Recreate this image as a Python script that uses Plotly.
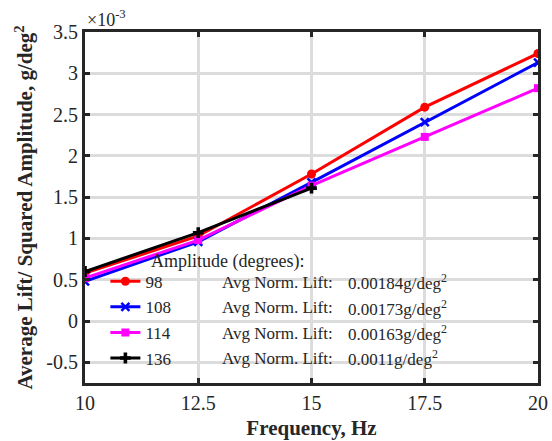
import plotly.graph_objects as go

# Data (values in units of 1e-3 g/deg^2)
freq = [10, 12.5, 15, 17.5, 20]
freq_136 = [10, 12.5, 15]
amp_98 = [0.58, 1.03, 1.78, 2.59, 3.24]
amp_108 = [0.48, 0.96, 1.68, 2.41, 3.13]
amp_114 = [0.52, 0.98, 1.64, 2.23, 2.82]
amp_136 = [0.60, 1.07, 1.61]

series_names = ["98", "108", "114", "136"]
avg_lift_labels = ["0.00184", "0.00173", "0.00163", "0.0011"]

x_tickvals = [10, 12.5, 15, 17.5, 20]
x_ticktext = ["10", "12.5", "15", "17.5", "20"]
y_tickvals = [-0.5, 0, 0.5, 1, 1.5, 2, 2.5, 3, 3.5]
y_ticktext = ["-0.5", "0", "0.5", "1", "1.5", "2", "2.5", "3", "3.5"]

FONT = "'Liberation Serif', 'Times New Roman', Times, serif"
AX = "#262626"
LEG_SIZE = 17

fig = go.Figure()
styles = [
    dict(color="#ff0000", symbol="circle", size=9, lw=0),
    dict(color="#0000ff", symbol="x-thin", size=8, lw=2.5),
    dict(color="#ff00ff", symbol="square", size=8, lw=0),
    dict(color="#000000", symbol="cross", size=9, lw=0),
]
xs = [freq, freq, freq, freq_136]
ys = [amp_98, amp_108, amp_114, amp_136]
for name, x, y, st in zip(series_names, xs, ys, styles):
    fig.add_trace(go.Scatter(
        x=x, y=y, name=name, mode="lines+markers", legendgroup=name,
        line=dict(color=st["color"], width=3),
        marker=dict(symbol=st["symbol"], size=st["size"], color=st["color"],
                    line=dict(color=st["color"], width=st["lw"])),
    ))

axis_common = dict(
    showgrid=True, gridcolor="#dcdcdc", gridwidth=2.5,
    ticks="inside", ticklen=5, tickwidth=3, tickcolor=AX,
    showline=True, linecolor=AX, linewidth=3, mirror="ticks",
    zeroline=False, automargin=False,
    tickfont=dict(family=FONT, size=20, color=AX),
)

fig.update_layout(
    width=552, height=441,
    margin=dict(l=85, r=14, t=32, b=58),
    paper_bgcolor="white", plot_bgcolor="white",
    font=dict(family=FONT, color=AX),
    xaxis=dict(range=[10, 20], tickmode="array", tickvals=x_tickvals, ticktext=x_ticktext,
               title=dict(text="<b>Frequency, Hz</b>", font=dict(family=FONT, size=21, color=AX), standoff=8),
               **axis_common),
    yaxis=dict(range=[-0.75, 3.5], tickmode="array", tickvals=y_tickvals, ticktext=y_ticktext,
               title=dict(text="<b>Average Lift/ Squared Amplitude, g/deg<sup>2</sup></b>",
                          font=dict(family=FONT, size=21, color=AX), standoff=8),
               **axis_common),
    legend=dict(x=0.045, xanchor="left", y=0.34, yanchor="top",
                bgcolor="rgba(0,0,0,0)", borderwidth=0,
                font=dict(family=FONT, size=LEG_SIZE, color=AX),
                tracegroupgap=0.5, itemwidth=30),
    showlegend=True,
)

annotations = [
    dict(text="×10<sup>-3</sup>", xref="paper", yref="paper", x=0.0, y=1.0,
         xanchor="left", yanchor="bottom", showarrow=False,
         font=dict(family=FONT, size=18, color=AX)),
    dict(text="Amplitude (degrees):", xref="paper", yref="paper",
         x=(149 - 85) / 453, y=(383 - 261) / 351, xanchor="left", yanchor="middle",
         showarrow=False, font=dict(family=FONT, size=LEG_SIZE + 1, color=AX)),
]
row_y = [282, 307.5, 333, 358]
for ry, val in zip(row_y, avg_lift_labels):
    annotations.append(dict(text="Avg Norm. Lift:", xref="paper", yref="paper",
                            x=(220 - 85) / 453, y=(383 - ry) / 351, xanchor="left", yanchor="middle",
                            showarrow=False, font=dict(family=FONT, size=LEG_SIZE, color=AX)))
    annotations.append(dict(text=val + "g/deg<sup>2</sup>", xref="paper", yref="paper",
                            x=(346 - 85) / 453, y=(383 - ry) / 351, xanchor="left", yanchor="middle",
                            showarrow=False, font=dict(family=FONT, size=LEG_SIZE, color=AX)))
fig.update_layout(annotations=annotations)

fig.write_html("out.html")
